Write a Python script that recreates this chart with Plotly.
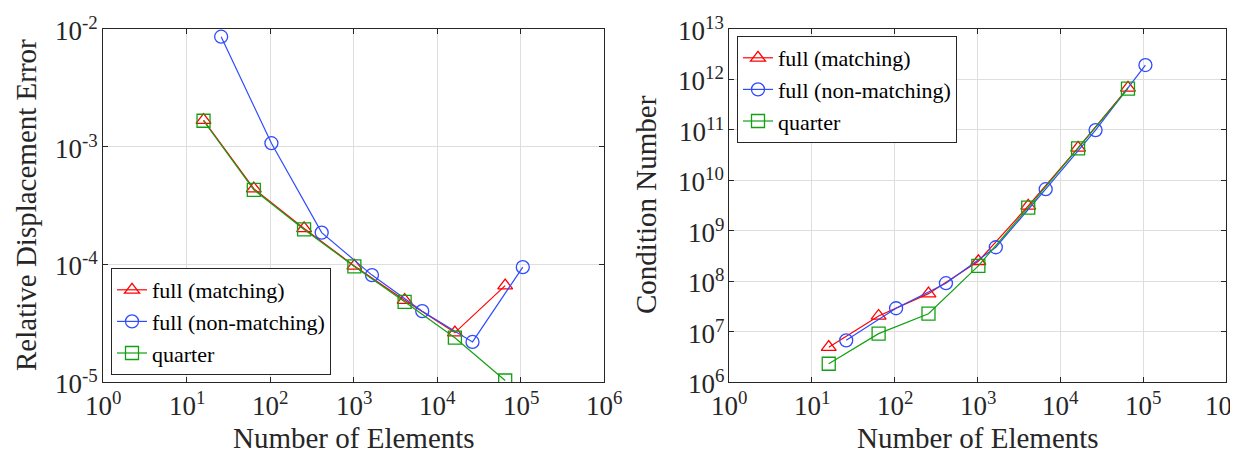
import plotly.graph_objects as go

# ---- data ----
x_match = [16, 64, 256, 1024, 4096, 16384, 65536]
x_nonmatch = [26, 104, 416, 1664, 6656, 26624, 106496]
x_quarter = [16, 64, 256, 1024, 4096, 16384, 65536]

err_match = [1.68e-3, 4.4e-4, 2.02e-4, 9.7e-5, 4.96e-5, 2.63e-5, 6.6e-5]
err_nonmatch = [8.6e-3, 1.07e-3, 1.86e-4, 8.1e-5, 4.0e-5, 2.19e-5, 9.46e-5]
err_quarter = [1.66e-3, 4.3e-4, 1.98e-4, 9.6e-5, 4.8e-5, 2.38e-5, 1.03e-5]

cond_match = [4.9e6, 2.04e7, 5.65e7, 2.48e8, 3.1e9, 4.4e10, 6.8e11]
cond_nonmatch = [6.7e6, 2.9e7, 9.1e7, 4.7e8, 6.65e9, 9.9e10, 1.93e12]
cond_quarter = [2.3e6, 9.1e6, 2.26e7, 2.0e8, 2.88e9, 4.3e10, 6.6e11]

x_exponents = [0, 1, 2, 3, 4, 5, 6]
err_exponents = [-5, -4, -3, -2]
cond_exponents = [6, 7, 8, 9, 10, 11, 12, 13]

names = ["full (matching)", "full (non-matching)", "quarter"]
colors = ["#ff0000", "#2f4bff", "#12a012"]
symbols = ["triangle-up-open", "circle-open", "square-open"]

FONT = "'Liberation Serif', 'Times New Roman', serif"
W, H = 1238, 455
TXT = "#262626"
TICK_SIZE = 27
TITLE_SIZE = 29


def tick_text(e):
    return "10<sup>%d</sup>" % e


fig = go.Figure()

series_left = [(x_match, err_match), (x_nonmatch, err_nonmatch), (x_quarter, err_quarter)]
series_right = [(x_match, cond_match), (x_nonmatch, cond_nonmatch), (x_quarter, cond_quarter)]

for i, (xs, ys) in enumerate(series_left):
    fig.add_trace(go.Scatter(
        x=xs, y=ys, name=names[i], mode="lines+markers",
        line=dict(color=colors[i], width=1.2),
        marker=dict(symbol=symbols[i], size=13, color=colors[i], line=dict(width=1.3)),
        xaxis="x", yaxis="y", legend="legend",
    ))
for i, (xs, ys) in enumerate(series_right):
    fig.add_trace(go.Scatter(
        x=xs, y=ys, name=names[i], mode="lines+markers",
        line=dict(color=colors[i], width=1.2),
        marker=dict(symbol=symbols[i], size=13, color=colors[i], line=dict(width=1.3)),
        xaxis="x2", yaxis="y2", legend="legend2",
    ))

y_dom = [(H - 374) / H, (H - 21) / H]
xl_dom = [95 / W, 596 / W]
xr_dom = [721 / W, 1218 / W]


def make_axis(domain, rng, anchor, exps):
    return dict(
        type="log", tickmode="array", tickvals=[10.0 ** e for e in exps],
        showticklabels=False,
        domain=domain, range=rng, anchor=anchor,
        showline=True, linecolor=TXT, linewidth=1, mirror="ticks",
        ticks="inside", ticklen=5, tickcolor=TXT,
        showgrid=True, gridcolor="#dedede", gridwidth=1, zeroline=False,
    )


annotations = []
tick_font = dict(family=FONT, size=TICK_SIZE, color=TXT)
title_font = dict(family=FONT, size=TITLE_SIZE, color=TXT)

# x tick labels (both panels)
for xref in ["x", "x2"]:
    for e in x_exponents:
        shift = -3 if (xref == "x2" and e == x_exponents[-1]) else 0
        annotations.append(dict(
            text=tick_text(e), xref=xref, x=e, yref="paper", y=(H - 396) / H,
            xanchor="center", yanchor="middle", xshift=shift,
            showarrow=False, font=tick_font,
        ))
# y tick labels
for xref, yref, exps in [("x domain", "y", err_exponents), ("x2 domain", "y2", cond_exponents)]:
    for e in exps:
        annotations.append(dict(
            text=tick_text(e), xref=xref, x=0, yref=yref, y=e,
            xanchor="right", yanchor="middle", xshift=-3, showarrow=False, font=tick_font,
        ))
# axis titles
for dom in [xl_dom, xr_dom]:
    annotations.append(dict(
        text="Number of Elements", xref="paper", x=(dom[0] + dom[1]) / 2,
        yref="paper", y=(H - 430) / H, xanchor="center", yanchor="middle",
        showarrow=False, font=title_font,
    ))
annotations.append(dict(
    text="Relative Displacement Error", xref="paper", x=18 / W, yref="paper",
    y=(H - 197) / H, xanchor="center", yanchor="middle", textangle=-90,
    showarrow=False, font=title_font,
))
annotations.append(dict(
    text="Condition Number", xref="paper", x=638 / W, yref="paper",
    y=(H - 197) / H, xanchor="center", yanchor="middle", textangle=-90,
    showarrow=False, font=title_font,
))

fig.update_layout(
    width=W, height=H,
    margin=dict(l=0, r=0, t=0, b=0, autoexpand=False),
    paper_bgcolor="white", plot_bgcolor="white",
    font=dict(family=FONT, color=TXT),
    xaxis=make_axis(xl_dom, [0, 6], "y", x_exponents),
    yaxis=make_axis(y_dom, [-5, -2], "x", err_exponents),
    xaxis2=make_axis(xr_dom, [0, 6], "y2", x_exponents),
    yaxis2=make_axis(y_dom, [6, 13], "x2", cond_exponents),
    annotations=annotations,
    legend=dict(x=103 / W, y=(H - 367) / H, xanchor="left", yanchor="bottom",
                bgcolor="white", bordercolor=TXT, borderwidth=1,
                font=dict(family=FONT, size=22, color="#000000"),
                itemwidth=30, tracegroupgap=0),
    legend2=dict(x=729 / W, y=(H - 28) / H, xanchor="left", yanchor="top",
                 bgcolor="white", bordercolor=TXT, borderwidth=1,
                 font=dict(family=FONT, size=22, color="#000000"),
                 itemwidth=30, tracegroupgap=0),
    showlegend=True,
)

fig.write_html("out.html")
